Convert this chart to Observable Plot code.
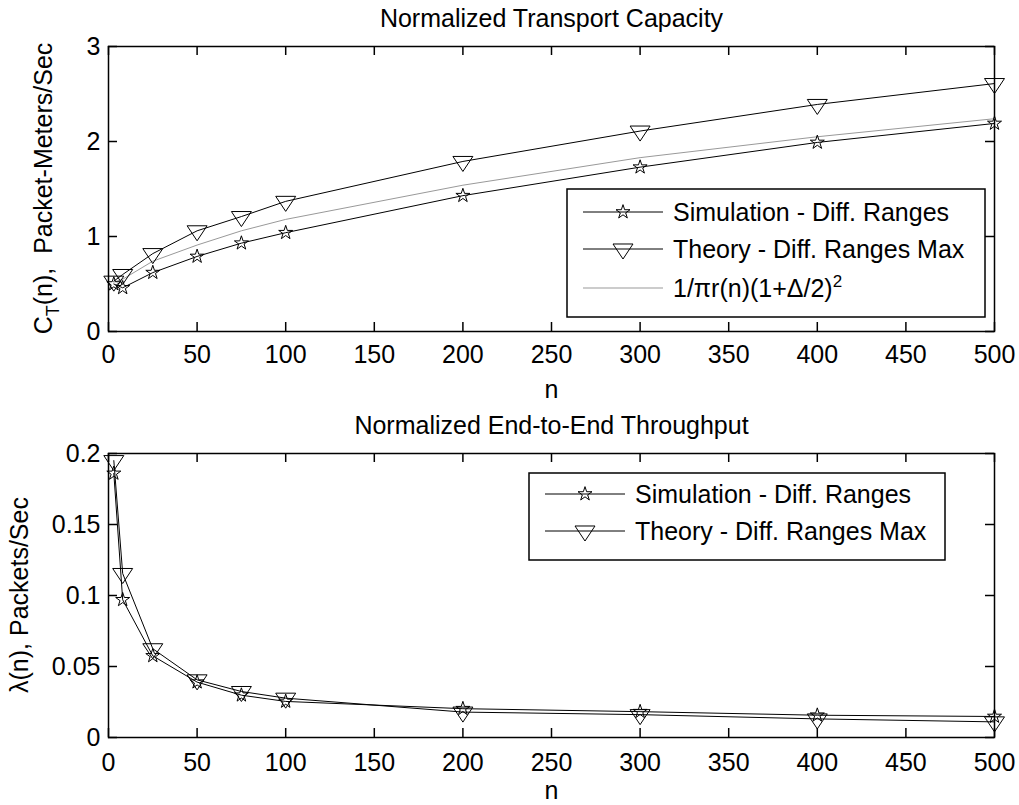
<!DOCTYPE html>
<html>
<head>
<meta charset="utf-8">
<script src="https://cdn.jsdelivr.net/npm/d3@7"></script>
<script src="https://cdn.jsdelivr.net/npm/@observablehq/plot@0.6"></script>
<style>
  html, body { margin: 0; padding: 0; background: #fff; }
  #fig { width: 1019px; height: 805px; background: #fff; }
  #fig svg { display: block; }
</style>
</head>
<body>
<div id="fig"></div>
<script>
// Network sizes (number of nodes)
const nodes = [3, 8, 25, 50, 75, 100, 200, 300, 400, 500];

// Normalized transport capacity, packet-meters/sec
const capacitySim = [0.50, 0.46, 0.62, 0.79, 0.93, 1.04, 1.43, 1.73, 1.99, 2.19];
const capacityTheory = [0.53, 0.60, 0.82, 1.06, 1.21, 1.37, 1.79, 2.11, 2.39, 2.61];
const capacityBound = [0.52, 0.55, 0.74, 0.91, 1.06, 1.18, 1.54, 1.83, 2.05, 2.24];

// Normalized end-to-end throughput, packets/sec
const throughputSim = [0.186, 0.097, 0.0575, 0.039, 0.0298, 0.0254, 0.0203, 0.0182, 0.0157, 0.0148];
const throughputTheory = [0.195, 0.1155, 0.0625, 0.0406, 0.0324, 0.0277, 0.0179, 0.0161, 0.0131, 0.0110];

// Axis ticks
const xTicks = [0, 50, 100, 150, 200, 250, 300, 350, 400, 450, 500];
const capacityTicks = [0, 1, 2, 3];
const capacityTickLabels = ["0", "1", "2", "3"];
const throughputTicks = [0, 0.05, 0.1, 0.15, 0.2];
const throughputTickLabels = ["0", "0.05", "0.1", "0.15", "0.2"];

const FONT = '"Liberation Sans", Arial, Helvetica, sans-serif';
const W = 1019;
const AX_LEFT = 108, AX_RIGHT = 994;
const TICK = 9;
const MARK_R = 4.4;  // star marker radius
const TRI_R = 7.4;   // triangle marker radius

// Downward triangle anchored at its centroid (wider than tall)
const triangleDown = {
  draw(ctx, size) {
    const r = Math.sqrt(size / Math.PI);
    const w = 2.7 * r, h = 2.03 * r;
    ctx.moveTo(-w / 2, -h / 3);
    ctx.lineTo(w / 2, -h / 3);
    ctx.lineTo(0, 2 * h / 3);
    ctx.closePath();
  }
};

const table = (ys) => nodes.map((n, i) => ({n, v: ys[i]}));

function panel({height, top, bottom, yDomain, yTicks, yTickLabels, tickPad, nOffset, series, title}) {
  const innerW = AX_RIGHT - AX_LEFT;
  const innerH = height - top - bottom;
  const labelOf = new Map(yTicks.map((t, i) => [t, yTickLabels[i]]));
  const marks = [
    Plot.frame({stroke: "#000", strokeWidth: 1.5}),
    // inward ticks on all four sides
    Plot.tickX(xTicks, {x: d => d, insetTop: innerH - TICK, stroke: "#000", strokeWidth: 1.5}),
    Plot.tickX(xTicks, {x: d => d, insetBottom: innerH - TICK, stroke: "#000", strokeWidth: 1.5}),
    Plot.tickY(yTicks, {y: d => d, insetRight: innerW - TICK, stroke: "#000", strokeWidth: 1.5}),
    Plot.tickY(yTicks, {y: d => d, insetLeft: innerW - TICK, stroke: "#000", strokeWidth: 1.5}),
    Plot.axisX({ticks: xTicks, tickSize: 0, tickPadding: tickPad, tickFormat: d => String(d), label: null}),
    Plot.axisY({ticks: yTicks, tickSize: 0, tickPadding: 8, tickFormat: d => labelOf.get(d), label: null}),
    Plot.text([title], {text: d => d, frameAnchor: "top", dy: -20, lineAnchor: "bottom", fill: "#000"}),
    Plot.text(["n"], {text: d => d, frameAnchor: "bottom", dy: nOffset, lineAnchor: "middle", fill: "#000"})
  ];
  for (const s of series) {
    const data = table(s.values);
    marks.push(Plot.line(data, {x: "n", y: "v", stroke: s.stroke, strokeWidth: 1}));
    if (s.symbol) {
      marks.push(Plot.dot(data, {x: "n", y: "v", symbol: s.symbol, r: s.r, stroke: "#000", fill: "none", strokeWidth: 1}));
    }
  }
  return Plot.plot({
    width: W,
    height,
    marginLeft: AX_LEFT,
    marginRight: W - AX_RIGHT,
    marginTop: top,
    marginBottom: bottom,
    x: {domain: [0, 500]},
    y: {domain: yDomain},
    style: {fontFamily: FONT, fontSize: "25px", background: "#fff", color: "#000", overflow: "visible"},
    marks
  });
}

function symbolPath(symbol, r) {
  const type = symbol === "star" ? d3.symbolStar : symbol;
  return d3.symbol(type, Math.PI * r * r)();
}

function addYLabel(svg, {x, cy, parts}) {
  const t = d3.select(svg).append("text")
    .attr("transform", `translate(${x},${cy}) rotate(-90)`)
    .attr("text-anchor", "middle")
    .attr("font-family", FONT)
    .attr("font-size", 25)
    .attr("fill", "#000")
    .style("white-space", "pre");
  for (const p of parts) {
    const ts = t.append("tspan").text(p.text);
    if (p.dy) ts.attr("dy", p.dy);
    if (p.size) ts.attr("font-size", p.size);
  }
}

function addLegend(svg, {x0, y0, x1, y1, rows}) {
  const g = d3.select(svg).append("g")
    .attr("font-family", FONT).attr("font-size", 25).attr("text-anchor", "start");
  g.append("rect").attr("x", x0).attr("y", y0).attr("width", x1 - x0).attr("height", y1 - y0)
    .attr("fill", "#fff").attr("stroke", "#000").attr("stroke-width", 1.5);
  for (const row of rows) {
    g.append("line").attr("x1", x0 + 16).attr("x2", x0 + 96).attr("y1", row.cy).attr("y2", row.cy)
      .attr("stroke", row.stroke).attr("stroke-width", 1);
    if (row.symbol) {
      g.append("path").attr("d", symbolPath(row.symbol, row.r))
        .attr("transform", `translate(${x0 + 56},${row.cy})`)
        .attr("fill", "none").attr("stroke", "#000").attr("stroke-width", 1);
    }
    const t = g.append("text").attr("x", x0 + 106).attr("y", row.cy + 9)
      .attr("fill", "#000").attr("text-anchor", "start");
    t.append("tspan").text(row.text);
    if (row.sup) t.append("tspan").attr("dy", -10).attr("font-size", 17).text(row.sup);
  }
}

const fig = document.getElementById("fig");

// Top: transport capacity
const topPlot = panel({
  height: 400, top: 46, bottom: 69,
  yDomain: [0, 3], yTicks: capacityTicks, yTickLabels: capacityTickLabels, tickPad: 14, nOffset: 58,
  title: "Normalized Transport Capacity",
  series: [
    {values: capacityBound, stroke: "#999"},
    {values: capacitySim, stroke: "#000", symbol: "star", r: MARK_R},
    {values: capacityTheory, stroke: "#000", symbol: triangleDown, r: TRI_R}
  ]
});
addYLabel(topPlot, {x: 52, cy: 188.5, parts: [
  {text: "C"}, {text: "T", dy: 7, size: 18}, {text: "(n),  Packet-Meters/Sec", dy: -7}
]});
addLegend(topPlot, {x0: 567, y0: 189, x1: 985, y1: 317, rows: [
  {cy: 212, stroke: "#000", symbol: "star", r: MARK_R, text: "Simulation - Diff. Ranges"},
  {cy: 249, stroke: "#000", symbol: triangleDown, r: TRI_R, text: "Theory - Diff. Ranges Max"},
  {cy: 288, stroke: "#999", text: "1/\u03c0r(n)(1+\u0394/2)", sup: "2"}
]});
fig.appendChild(topPlot);

// Bottom: end-to-end throughput
const bottomPlot = panel({
  height: 405, top: 53, bottom: 68,
  yDomain: [0, 0.2], yTicks: throughputTicks, yTickLabels: throughputTickLabels, tickPad: 16, nOffset: 53,
  title: "Normalized End-to-End Throughput",
  series: [
    {values: throughputSim, stroke: "#000", symbol: "star", r: MARK_R},
    {values: throughputTheory, stroke: "#000", symbol: triangleDown, r: TRI_R}
  ]
});
addYLabel(bottomPlot, {x: 28, cy: 195, parts: [{text: "\u03bb(n), Packets/Sec"}]});
addLegend(bottomPlot, {x0: 529, y0: 73, x1: 945, y1: 160, rows: [
  {cy: 94, stroke: "#000", symbol: "star", r: MARK_R, text: "Simulation - Diff. Ranges"},
  {cy: 131, stroke: "#000", symbol: triangleDown, r: TRI_R, text: "Theory - Diff. Ranges Max"}
]});
fig.appendChild(bottomPlot);
</script>
</body>
</html>
